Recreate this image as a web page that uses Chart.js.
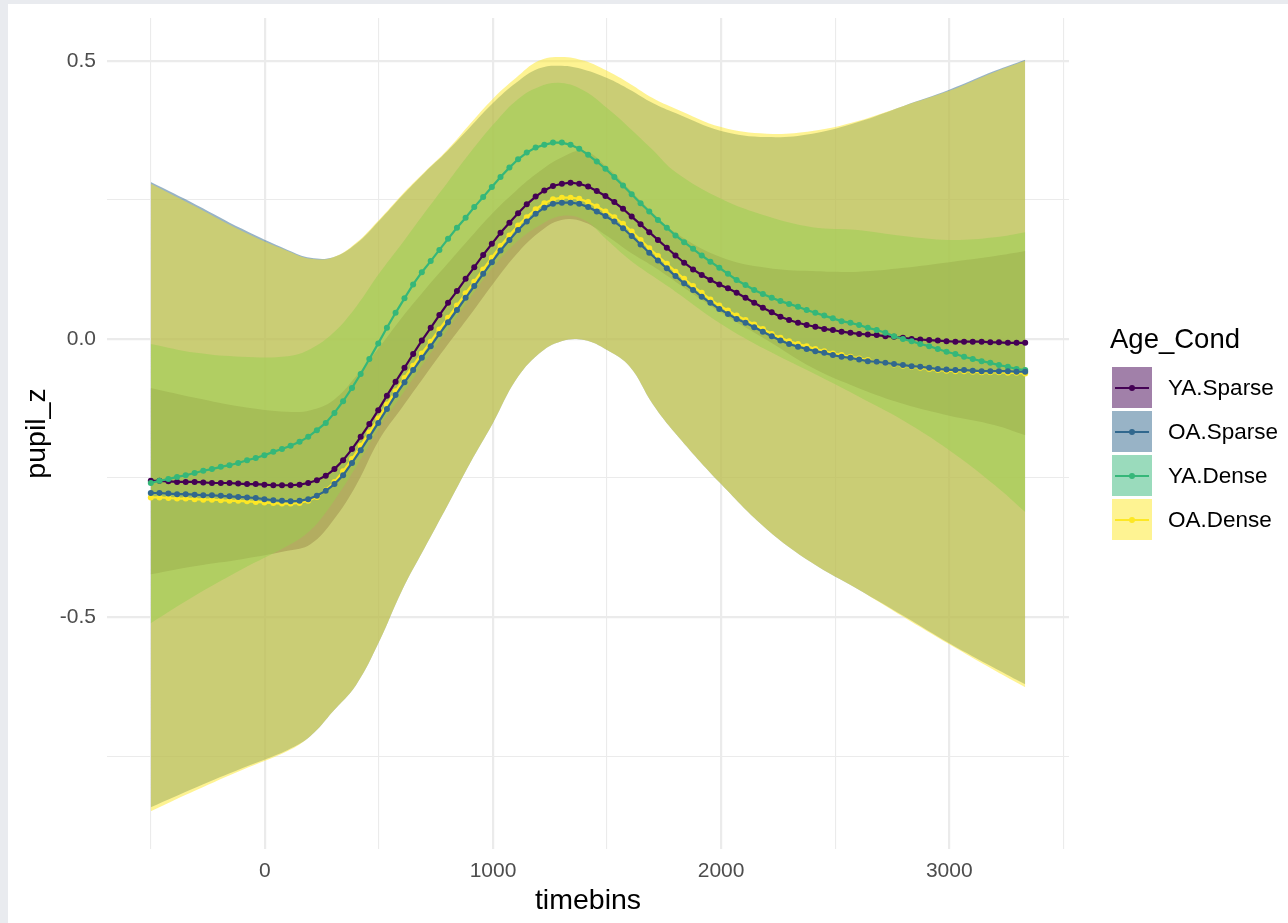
<!DOCTYPE html>
<html>
<head>
<meta charset="utf-8">
<script src="https://cdn.jsdelivr.net/npm/chart.js@4.4.1/dist/chart.umd.min.js"></script>
<style>
  html, body { margin: 0; padding: 0; background: #e9ebef; width: 1288px; height: 923px; overflow: hidden; }
  #wrap { position: absolute; left: 8px; top: 4px; width: 1280px; height: 919px; background: #fff; }
  #legend { position: absolute; left: 0; top: 0; font-family: "Liberation Sans", Arial, Helvetica, sans-serif; }
  .ttl { position: absolute; font-size: 27.5px; color: #000; white-space: nowrap; }
  .key { position: absolute; width: 40px; height: 41px; }
  .key .ln { position: absolute; left: 3px; right: 3px; top: 19.5px; height: 2px; }
  .key .pt { position: absolute; left: 17px; top: 17.5px; width: 6px; height: 6px; border-radius: 50%; }
  .lbl { position: absolute; font-size: 22.5px; color: #000; white-space: nowrap; }
</style>
</head>
<body>
<div id="wrap"><canvas id="myChart"></canvas></div>
<div id="legend"></div>
<script>
// group names and colours (viridis)
const groups = ['YA.Sparse', 'OA.Sparse', 'YA.Dense', 'OA.Dense']
const lineColors = ['#440154', '#31688E', '#35B779', '#FDE725']
const fillColors = ['rgba(68,1,84,0.5)', 'rgba(49,104,142,0.5)', 'rgba(53,183,121,0.5)', 'rgba(253,231,37,0.5)']

// time bins of the fitted curves
const timebins = [
  -500, -462, -423, -385, -347, -308, -270, -232, -193, -155,
  -117, -78, -40, -2, 37, 75, 113, 152, 190, 228,
  267, 305, 343, 382, 420, 458, 497, 535, 573, 612,
  650, 688, 727, 765, 803, 842, 880, 918, 957, 995,
  1033, 1072, 1110, 1148, 1187, 1225, 1263, 1302, 1340, 1378,
  1417, 1455, 1493, 1532, 1570, 1608, 1647, 1685, 1723, 1762,
  1800, 1838, 1877, 1915, 1953, 1992, 2030, 2068, 2107, 2145,
  2183, 2222, 2260, 2298, 2337, 2375, 2413, 2452, 2490, 2528,
  2567, 2605, 2643, 2682, 2720, 2758, 2797, 2835, 2873, 2912,
  2950, 2988, 3027, 3065, 3103, 3142, 3180, 3218, 3257, 3295, 3333
]

const ysMean = [
  -0.255, -0.255, -0.256, -0.257, -0.257, -0.257, -0.258, -0.259, -0.259, -0.259,
  -0.260, -0.261, -0.261, -0.262, -0.263, -0.263, -0.263, -0.262, -0.259, -0.254,
  -0.246, -0.234, -0.218, -0.198, -0.176, -0.153, -0.128, -0.102, -0.077, -0.052,
  -0.027, -0.003, 0.020, 0.043, 0.065, 0.086, 0.108, 0.129, 0.151, 0.171,
  0.191, 0.209, 0.226, 0.242, 0.256, 0.267, 0.275, 0.279, 0.281, 0.279,
  0.274, 0.266, 0.257, 0.246, 0.234, 0.220, 0.206, 0.192, 0.178, 0.164,
  0.150, 0.137, 0.125, 0.115, 0.106, 0.098, 0.091, 0.083, 0.074, 0.065,
  0.056, 0.048, 0.040, 0.034, 0.029, 0.025, 0.022, 0.018, 0.016, 0.013,
  0.011, 0.009, 0.008, 0.007, 0.005, 0.004, 0.002, 0.000, -0.001, -0.002,
  -0.003, -0.004, -0.005, -0.005, -0.005, -0.005, -0.006, -0.006, -0.007, -0.007, -0.007
]
const osMean = [
  -0.277, -0.277, -0.278, -0.279, -0.279, -0.280, -0.281, -0.281, -0.282, -0.283,
  -0.284, -0.285, -0.286, -0.288, -0.290, -0.291, -0.292, -0.291, -0.288, -0.282,
  -0.273, -0.261, -0.245, -0.223, -0.200, -0.176, -0.151, -0.126, -0.101, -0.078,
  -0.056, -0.034, -0.013, 0.009, 0.030, 0.052, 0.074, 0.095, 0.117, 0.138,
  0.159, 0.178, 0.196, 0.211, 0.225, 0.236, 0.243, 0.245, 0.245, 0.243,
  0.237, 0.229, 0.221, 0.211, 0.199, 0.185, 0.170, 0.155, 0.141, 0.127,
  0.113, 0.100, 0.088, 0.076, 0.065, 0.054, 0.045, 0.036, 0.029, 0.021,
  0.013, 0.005, -0.003, -0.009, -0.014, -0.018, -0.022, -0.025, -0.029, -0.032,
  -0.034, -0.037, -0.040, -0.041, -0.043, -0.045, -0.047, -0.049, -0.050, -0.052,
  -0.054, -0.055, -0.056, -0.056, -0.057, -0.058, -0.058, -0.058, -0.058, -0.059, -0.059
]
const ydMean = [
  -0.259, -0.255, -0.252, -0.248, -0.245, -0.241, -0.237, -0.234, -0.230, -0.227,
  -0.223, -0.218, -0.214, -0.209, -0.203, -0.198, -0.192, -0.185, -0.176, -0.164,
  -0.151, -0.133, -0.112, -0.088, -0.063, -0.036, -0.008, 0.020, 0.047, 0.073,
  0.098, 0.120, 0.140, 0.160, 0.180, 0.200, 0.218, 0.237, 0.255, 0.273,
  0.291, 0.308, 0.323, 0.335, 0.344, 0.349, 0.353, 0.353, 0.349, 0.342,
  0.331, 0.319, 0.306, 0.291, 0.276, 0.260, 0.244, 0.229, 0.214, 0.200,
  0.186, 0.174, 0.162, 0.150, 0.139, 0.128, 0.117, 0.106, 0.097, 0.088,
  0.081, 0.074, 0.068, 0.063, 0.058, 0.052, 0.047, 0.042, 0.037, 0.032,
  0.029, 0.025, 0.020, 0.016, 0.011, 0.005, 0.000, -0.004, -0.009, -0.013,
  -0.018, -0.023, -0.027, -0.032, -0.036, -0.040, -0.043, -0.047, -0.050, -0.054, -0.056
]
const odMean = [
  -0.285, -0.285, -0.286, -0.287, -0.287, -0.288, -0.289, -0.289, -0.290, -0.291,
  -0.291, -0.292, -0.293, -0.294, -0.295, -0.296, -0.296, -0.295, -0.291, -0.284,
  -0.272, -0.257, -0.238, -0.216, -0.192, -0.168, -0.143, -0.118, -0.094, -0.070,
  -0.048, -0.026, -0.005, 0.017, 0.038, 0.060, 0.082, 0.103, 0.125, 0.146,
  0.167, 0.186, 0.204, 0.219, 0.233, 0.244, 0.251, 0.254, 0.254, 0.252,
  0.246, 0.238, 0.229, 0.219, 0.207, 0.193, 0.178, 0.163, 0.149, 0.135,
  0.121, 0.108, 0.095, 0.083, 0.071, 0.060, 0.051, 0.042, 0.034, 0.026,
  0.018, 0.009, 0.002, -0.004, -0.009, -0.013, -0.018, -0.022, -0.026, -0.029,
  -0.032, -0.035, -0.038, -0.041, -0.043, -0.046, -0.048, -0.050, -0.052, -0.054,
  -0.056, -0.057, -0.058, -0.058, -0.059, -0.060, -0.060, -0.060, -0.061, -0.061, -0.062
]

// confidence ribbons, read at coarser time points
const ribbonTimes = [-500, -300, -100, 100, 200, 300, 400, 500, 600, 700, 800, 900, 1000, 1100, 1200,
  1300, 1400, 1500, 1600, 1700, 1800, 2000, 2200, 2400, 2600, 2800, 3000, 3200, 3333]

const ysUpper = [-0.088, -0.106, -0.122, -0.131, -0.128, -0.110, -0.067, -0.016, 0.038, 0.088, 0.135, 0.182, 0.227, 0.266, 0.300,
  0.326, 0.338, 0.309, 0.268, 0.227, 0.191, 0.147, 0.128, 0.122, 0.121, 0.128, 0.138, 0.149, 0.158]
const ysLower = [-0.423, -0.408, -0.396, -0.381, -0.369, -0.326, -0.263, -0.182, -0.124, -0.067, -0.011, 0.043, 0.099, 0.151, 0.191,
  0.214, 0.210, 0.185, 0.156, 0.131, 0.103, 0.047, -0.002, -0.052, -0.088, -0.117, -0.138, -0.155, -0.173]
const osUpper = [0.282, 0.241, 0.198, 0.160, 0.146, 0.147, 0.171, 0.212, 0.257, 0.299, 0.338, 0.381, 0.424, 0.460, 0.486,
  0.491, 0.484, 0.469, 0.448, 0.424, 0.406, 0.374, 0.363, 0.369, 0.390, 0.419, 0.448, 0.482, 0.502]
const osLower = [-0.842, -0.806, -0.772, -0.739, -0.714, -0.669, -0.622, -0.545, -0.453, -0.376, -0.300, -0.223, -0.151, -0.074, -0.027,
  -0.004, -0.002, -0.020, -0.050, -0.117, -0.170, -0.261, -0.342, -0.403, -0.450, -0.498, -0.547, -0.592, -0.621]
const ydUpper = [-0.009, -0.025, -0.032, -0.031, -0.018, 0.011, 0.058, 0.117, 0.171, 0.227, 0.281, 0.335, 0.385, 0.428, 0.453,
  0.460, 0.446, 0.415, 0.379, 0.340, 0.300, 0.252, 0.221, 0.201, 0.196, 0.185, 0.178, 0.183, 0.192]
const ydLower = [-0.511, -0.460, -0.414, -0.372, -0.344, -0.293, -0.230, -0.160, -0.101, -0.041, 0.016, 0.074, 0.129, 0.173, 0.203,
  0.221, 0.214, 0.178, 0.142, 0.113, 0.085, 0.027, -0.020, -0.061, -0.103, -0.147, -0.200, -0.263, -0.311]
const odUpper = [0.279, 0.237, 0.194, 0.158, 0.144, 0.147, 0.173, 0.214, 0.259, 0.300, 0.340, 0.387, 0.432, 0.469, 0.500,
  0.507, 0.500, 0.482, 0.459, 0.433, 0.414, 0.381, 0.369, 0.374, 0.392, 0.419, 0.446, 0.480, 0.500]
const odLower = [-0.849, -0.811, -0.775, -0.741, -0.714, -0.669, -0.622, -0.545, -0.453, -0.376, -0.300, -0.223, -0.151, -0.074, -0.027,
  -0.004, -0.002, -0.020, -0.050, -0.117, -0.170, -0.261, -0.342, -0.403, -0.450, -0.500, -0.549, -0.596, -0.626]

// axis ticks
const xMajorTicks = [0, 1000, 2000, 3000]
const xMinorTicks = [-500, 500, 1500, 2500, 3500]
const yMajorTicks = [-0.5, 0, 0.5]
const yTickLabels = ['-0.5', '0.0', '0.5']
const yMinorTicks = [-0.75, -0.25, 0.25]

const means = [ysMean, osMean, ydMean, odMean]
const uppers = [ysUpper, osUpper, ydUpper, odUpper]
const lowers = [ysLower, osLower, ydLower, odLower]

const FONT = '"Liberation Sans", Arial, Helvetica, sans-serif'
const toXY = (xs, ys) => xs.map((x, i) => ({x: x, y: ys[i]}))

let datasets = []
// lines with points on top (lower order = drawn later)
const lineOrder = [2, 0, 1, 3]
groups.forEach((g, k) => {
  datasets.push({
    label: g,
    data: toXY(timebins, means[k]),
    borderColor: lineColors[k],
    backgroundColor: lineColors[k],
    borderWidth: 2.2,
    pointRadius: 3,
    pointBorderWidth: 0,
    pointBackgroundColor: lineColors[k],
    fill: false,
    tension: 0,
    order: lineOrder[k]
  })
})
// ribbons: upper bound fills down to the next dataset (its lower bound)
const ribbonOrder = [13, 12, 11, 10]
groups.forEach((g, k) => {
  datasets.push({
    label: g + ' upper',
    data: toXY(ribbonTimes, uppers[k]),
    borderColor: 'rgba(0,0,0,0)',
    borderWidth: 0,
    pointRadius: 0,
    backgroundColor: fillColors[k],
    fill: '+1',
    tension: 0.4,
    order: ribbonOrder[k]
  })
  datasets.push({
    label: g + ' lower',
    data: toXY(ribbonTimes, lowers[k]),
    borderColor: 'rgba(0,0,0,0)',
    borderWidth: 0,
    pointRadius: 0,
    fill: false,
    tension: 0.4,
    order: ribbonOrder[k]
  })
})

const xAll = xMinorTicks.concat(xMajorTicks).sort((a, b) => a - b)
const yAll = yMinorTicks.concat(yMajorTicks).sort((a, b) => a - b)

var ctx = document.getElementById('myChart').getContext('2d')
var chart = new Chart(ctx, {
  type: 'line',
  data: { datasets: datasets },
  options: {
    responsive: true,
    maintainAspectRatio: false,
    animation: false,
    events: [],
    layout: { padding: { left: 0, top: 14, right: 219, bottom: 0 } },
    plugins: { legend: { display: false }, tooltip: { enabled: false } },
    scales: {
      x: {
        type: 'linear',
        min: -692,
        max: 3525,
        afterFit: s => { s.height = 74; s.paddingLeft = 0; s.paddingRight = 0 },
        afterBuildTicks: s => { s.ticks = xAll.map(v => ({value: v})) },
        border: { display: false },
        grid: {
          drawTicks: false,
          color: '#ebebeb',
          lineWidth: c => (c.tick && xMajorTicks.includes(c.tick.value)) ? 2.2 : 1.1
        },
        ticks: {
          autoSkip: false,
          maxRotation: 0,
          padding: 10,
          color: '#4d4d4d',
          font: { family: FONT, size: 21 },
          callback: v => xMajorTicks.includes(v) ? String(v) : ''
        },
        title: {
          display: true,
          text: 'timebins',
          color: '#000',
          font: { family: FONT, size: 28.5 },
          padding: { top: 0, bottom: 5 }
        }
      },
      y: {
        type: 'linear',
        min: -0.917,
        max: 0.577,
        afterFit: s => { s.width = 99; s.paddingTop = 0; s.paddingBottom = 0 },
        afterBuildTicks: s => { s.ticks = yAll.map(v => ({value: v})) },
        border: { display: false },
        grid: {
          drawTicks: false,
          color: '#ebebeb',
          lineWidth: c => (c.tick && yMajorTicks.includes(c.tick.value)) ? 2.2 : 1.1
        },
        ticks: {
          autoSkip: false,
          padding: 11,
          color: '#4d4d4d',
          font: { family: FONT, size: 21 },
          callback: v => {
            let i = yMajorTicks.indexOf(v)
            return i >= 0 ? yTickLabels[i] : ''
          }
        },
        title: {
          display: true,
          text: 'pupil_z',
          color: '#000',
          font: { family: FONT, size: 28.5 },
          padding: { top: 12, bottom: 0 }
        }
      }
    }
  }
})

// legend on the right, as in the ggplot guide
let legend = document.getElementById('legend')
let html = '<div class="ttl" style="left:1110px;top:323px;">Age_Cond</div>'
groups.forEach((g, k) => {
  let top = 367 + 44 * k
  html += '<div class="key" style="left:1112px;top:' + top + 'px;background:' + fillColors[k] + ';">' +
    '<div class="ln" style="background:' + lineColors[k] + ';"></div>' +
    '<div class="pt" style="background:' + lineColors[k] + ';"></div></div>'
  html += '<div class="lbl" style="left:1168px;top:' + (top + 8) + 'px;">' + g + '</div>'
})
legend.innerHTML = html
</script>
</body>
</html>
